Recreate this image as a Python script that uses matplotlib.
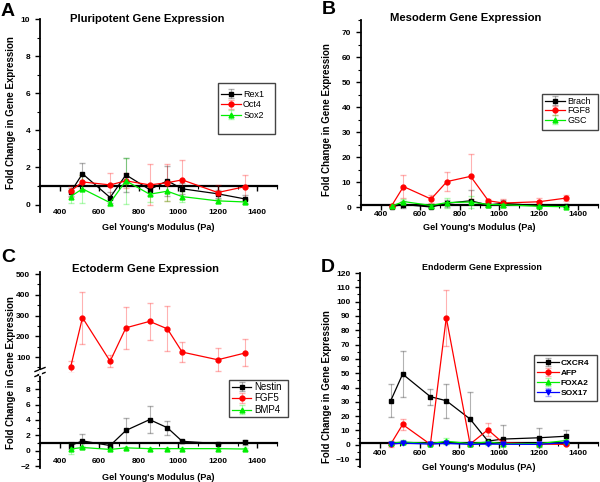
import matplotlib
matplotlib.use("Agg")
import matplotlib.pyplot as plt
import numpy as np
from matplotlib.ticker import MultipleLocator
from matplotlib.patches import Rectangle

plt.rcParams['font.family'] = ['Liberation Sans', 'DejaVu Sans']

# gel stiffness (Pa)
modulus = [455, 515, 655, 735, 855, 945, 1020, 1200, 1340]

# A - pluripotent
rex1 = [0.67, 1.66, 0.38, 1.6, 0.81, 1.28, 0.85, 0.58, 0.3]
rex1_err = [0.2, 0.6, 0.3, 0.9, 0.3, 0.8, 0.3, 0.2, 0.2]
oct4 = [0.72, 1.22, 1.06, 1.28, 1.06, 1.18, 1.33, 0.65, 0.97]
oct4_err = [0.3, 0.4, 0.65, 0.4, 1.1, 1.0, 1.05, 0.4, 0.65]
sox2 = [0.43, 0.85, 0.1, 1.28, 0.56, 0.72, 0.43, 0.2, 0.14]
sox2_err = [0.35, 0.75, 0.2, 1.25, 0.4, 0.55, 0.3, 0.1, 0.1]

# B - mesoderm
brach = [0.2, 1.0, 0.0, 1.5, 2.5, 0.8, 1.5, 0.5, 0.3]
brach_err = [0.3, 1.5, 0.5, 1.5, 4.5, 0.8, 1.5, 0.5, 0.3]
fgf8 = [0.5, 8.2, 3.2, 10.2, 12.3, 2.5, 1.6, 2.1, 3.6]
fgf8_err = [0.5, 4.5, 1.7, 3.8, 9.0, 0.8, 1.5, 1.7, 1.3]
gsc = [0.3, 2.2, 0.6, 1.8, 2.0, 1.0, 0.9, 0.3, 0.1]
gsc_err = [0.3, 1.0, 0.5, 2.0, 2.5, 0.6, 1.0, 0.3, 0.2]

# C - ectoderm
nestin = [0.7, 1.3, 0.7, 2.65, 4.05, 3.0, 1.25, 0.95, 1.1]
nestin_err = [0.5, 0.9, 0.2, 1.6, 1.7, 0.9, 0.2, 0.1, 0.3]
fgf5 = [51, 290, 80, 241, 272, 236, 124, 87, 120]
fgf5_err = [28, 125, 30, 100, 88, 108, 50, 55, 65]
bmp4 = [0.25, 0.45, 0.2, 0.4, 0.3, 0.3, 0.3, 0.3, 0.25]
bmp4_err = [0.6, 0.2, 0.1, 0.1, 0.1, 0.1, 0.1, 0.1, 0.1]

# D - endoderm
cxcr4 = [30.8, 49.4, 33.6, 30.8, 18.0, 2.6, 4.0, 4.9, 6.0]
cxcr4_err = [11.5, 16, 5.5, 12, 19, 1, 10, 6.5, 4.5]
afp = [0.5, 14.2, 0.3, 88.8, 0.5, 10.5, 1.5, 0.5, 0.3]
afp_err = [2, 4, 0.5, 19.5, 1, 4.5, 1, 0.5, 0.5]
foxa2 = [1.0, 2.0, 0.8, 2.5, 0.8, 2.0, 0.8, 0.8, 3.0]
foxa2_err = [1, 1.5, 0.5, 2, 0.5, 1.5, 0.5, 0.5, 1]
sox17 = [0.5, 1.2, 0.5, 1.0, 0.3, 0.5, 0.4, 0.3, 1.5]
sox17_err = [0.5, 0.5, 0.5, 0.5, 0.5, 0.5, 0.5, 0.5, 0.5]

W, H = 600, 482
fig = plt.figure(figsize=(6, 4.82), dpi=100)


def box(x0, y0, x1, y1):
    # pixel box -> figure fraction
    return [x0 / W, 1 - y1 / H, (x1 - x0) / W, (y1 - y0) / H]


def series(ax, y, err, color, marker, label, ms=3.5):
    ax.errorbar(modulus, y, yerr=err, color=color, marker=marker, ms=ms,
                lw=0.9, ecolor=color, elinewidth=0.8, capsize=2,
                label=label, zorder=3)
    # fade the error bars
    for c in ax.containers[-1].lines[1:]:
        for a in c:
            a.set_alpha(0.3)


def style(ax, ylim, major, minor, pad):
    ax.set_xlim(300, 1500)
    ax.set_ylim(*ylim)
    for s in ['top', 'right']:
        ax.spines[s].set_visible(False)
    ax.spines['left'].set_linewidth(1.3)
    ax.spines['bottom'].set_position(('data', 1))
    ax.spines['bottom'].set_linewidth(1.6)
    ax.xaxis.set_minor_locator(MultipleLocator(100))
    ax.set_xticks([400, 600, 800, 1000, 1200, 1400])
    ax.yaxis.set_major_locator(MultipleLocator(major))
    ax.yaxis.set_minor_locator(MultipleLocator(minor))
    ax.tick_params(direction='out', width=1, length=3.5, labelsize=6)
    ax.tick_params(which='minor', direction='out', width=0.8, length=2)
    ax.tick_params(axis='x', pad=pad)
    for t in ax.get_xticklabels() + ax.get_yticklabels():
        t.set_fontweight('bold')


def legend(ax, frame, anchor, size=6.5, hl=2.2, sp=0.05, bold=False, handles=None):
    if handles is None:
        handles = ax.get_legend_handles_labels()
    leg = ax.legend(*handles, loc='upper left', bbox_to_anchor=(anchor[0] / W, 1 - anchor[1] / H),
                    bbox_transform=fig.transFigure, frameon=False, fontsize=size,
                    handlelength=hl, handletextpad=0.25, labelspacing=sp,
                    borderpad=0, borderaxespad=0)
    if bold:
        for t in leg.get_texts():
            t.set_fontweight('bold')
    x0, y0, x1, y1 = frame
    fig.add_artist(Rectangle((x0 / W, 1 - y1 / H), (x1 - x0) / W, (y1 - y0) / H,
                             transform=fig.transFigure, fill=False,
                             edgecolor='#444444', lw=1.0))


title_kw = dict(fontweight='bold', ha='center', va='center')
xlab_kw = dict(fontweight='bold', fontsize=6.6, ha='center', va='center')
ylab_kw = dict(fontweight='bold', fontsize=7, ha='center', va='center', rotation=90)

# ---- A
axA = fig.add_axes(box(40, 19, 277, 212))
series(axA, rex1, rex1_err, 'black', 's', 'Rex1')
series(axA, oct4, oct4_err, 'red', 'o', 'Oct4')
series(axA, sox2, sox2_err, '#00ee00', '^', 'Sox2')
style(axA, (-0.4, 10), 2, 1, 13)
axA.set_yticks([0, 2, 4, 6, 8, 10])
legend(axA, (218, 83, 275, 134), (221, 90), sp=0.15)

# ---- B
axB = fig.add_axes(box(361, 20, 598, 210))
series(axB, brach, brach_err, 'black', 's', 'Brach')
series(axB, fgf8, fgf8_err, 'red', 'o', 'FGF8')
series(axB, gsc, gsc_err, '#00ee00', '^', 'GSC')
style(axB, (-1.2, 75), 10, 5, 1)
axB.set_yticks([0, 10, 20, 30, 40, 50, 60, 70])
legend(axB, (542, 94, 598, 130), (545, 97))

# ---- C (broken axis)
axCu = fig.add_axes(box(40, 272, 277, 372))
axCl = fig.add_axes(box(40, 372, 277, 468))
series(axCu, fgf5, fgf5_err, 'red', 'o', 'FGF5')
series(axCl, nestin, nestin_err, 'black', 's', 'Nestin')
series(axCl, fgf5, fgf5_err, 'red', 'o', 'FGF5')
series(axCl, bmp4, bmp4_err, '#00ee00', '^', 'BMP4')
style(axCl, (-2.2, 10.2), 2, 1, 7)
axCl.set_yticks([-2, 0, 2, 4, 6, 8])
axCu.set_xlim(300, 1500)
axCu.set_ylim(28, 510)
for s in ['top', 'right', 'bottom']:
    axCu.spines[s].set_visible(False)
axCu.spines['left'].set_linewidth(1.3)
axCu.set_xticks([])
axCu.set_yticks([100, 200, 300, 400, 500])
axCu.yaxis.set_minor_locator(MultipleLocator(50))
axCu.tick_params(direction='out', width=1, length=3.5, labelsize=6)
axCu.tick_params(which='minor', direction='out', width=0.8, length=2)
for t in axCu.get_yticklabels():
    t.set_fontweight('bold')
axCu.patch.set_visible(False)
axCl.patch.set_visible(False)
# break marks on the y axis
for dy in (-2.5, 2.5):
    fig.add_artist(plt.Line2D([35 / W, 45 / W], [1 - (372 + dy + 2) / H, 1 - (372 + dy - 2) / H],
                              color='black', lw=1))
fig.add_artist(plt.Line2D([40 / W, 40 / W], [1 - 370.5 / H, 1 - 373.5 / H], color='white', lw=2))
legend(axCl, (229, 380, 288, 417), (232, 382), size=7, hl=2.0, sp=0.15)

# ---- D
axD = fig.add_axes(box(360, 273, 598, 467))
series(axD, cxcr4, cxcr4_err, 'black', 's', 'CXCR4')
series(axD, afp, afp_err, 'red', 'o', 'AFP')
series(axD, foxa2, foxa2_err, '#00ee00', '^', 'FOXA2')
series(axD, sox17, sox17_err, 'blue', 'v', 'SOX17')
style(axD, (-15.5, 120), 10, 5, 1)
axD.set_yticks(np.arange(-10, 121, 10))
legend(axD, (534, 355, 597, 401), (537, 359), size=6, hl=2.6, sp=0.25, bold=True)

# ---- text
fig.text(147 / W, 1 - 19 / H, 'Pluripotent Gene Expression', fontsize=8.1, **title_kw)
fig.text(466 / W, 1 - 18 / H, 'Mesoderm Gene Expression', fontsize=8.1, **title_kw)
fig.text(146 / W, 1 - 269 / H, 'Ectoderm Gene Expression', fontsize=8.1, **title_kw)
fig.text(482 / W, 1 - 267 / H, 'Endoderm Gene Expression', fontsize=6.4, **title_kw)

fig.text(158 / W, 1 - 228 / H, "Gel Young's Modulus (Pa)", **xlab_kw)
fig.text(479 / W, 1 - 227 / H, "Gel Young's Modulus (Pa)", **xlab_kw)
fig.text(158 / W, 1 - 477 / H, "Gel Young's Modulus (Pa)", **xlab_kw)
fig.text(479 / W, 1 - 468 / H, "Gel Young's Modulus (PA)", **xlab_kw)

fig.text(11 / W, 1 - 113 / H, 'Fold Change in Gene Expression', **ylab_kw)
fig.text(327 / W, 1 - 120 / H, 'Fold Change in Gene Expression', **ylab_kw)
fig.text(11 / W, 1 - 373 / H, 'Fold Change in Gene Expression', **ylab_kw)
fig.text(327 / W, 1 - 387 / H, 'Fold Change in Gene Expression', **ylab_kw)

for s, x, y in [('A', 1, 12), ('B', 322, 10), ('C', 1, 257), ('D', 321, 268)]:
    fig.text(x / W, 1 - y / H, s, fontsize=14, fontweight='bold', ha='left', va='center')

fig.savefig('out.png', dpi=100)
